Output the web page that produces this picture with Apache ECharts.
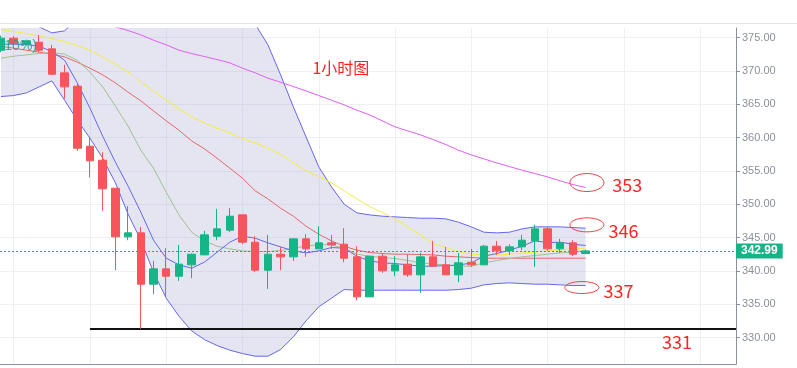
<!DOCTYPE html>
<html><head><meta charset="utf-8">
<script src="https://cdn.jsdelivr.net/npm/echarts@6/dist/echarts.min.js"></script>
<style>html,body{margin:0;padding:0;background:#fff}#c{width:797px;height:368px}</style>
</head><body><div id="c"></div>
<script>
// ---- data (hourly candles) ----
const opens  = [373.1,374.9,374.0,374.3,373.3,369.7,367.7,358.7,356.6,352.4,345.1,345.7,338.0,340.3,339.2,340.9,342.4,345.2,346.1,348.4,344.3,340.1,342.5,342.1,344.8,343.3,344.2,344.0,342.1,336.1,342.2,340.0,341.0,339.4,342.1,340.9,339.4,341.3,340.9,343.7,343.0,343.6,344.5,346.3,343.3,344.2,342.6];
const closes = [374.9,374.1,374.5,373.1,369.5,367.6,358.4,356.5,352.3,345.1,345.7,338.0,340.3,339.2,341.0,342.5,345.4,346.3,348.2,344.3,340.1,342.5,342.1,344.8,343.3,344.2,343.9,341.9,336.1,342.2,340.0,340.9,339.4,342.1,340.7,339.4,341.2,340.9,343.7,343.0,343.6,344.6,346.3,343.3,344.2,342.5,342.99];
const lows   = [372.8,373.9,373.8,372.8,369.4,365.8,358.0,354.0,349.0,340.1,344.6,331.3,336.5,336.2,338.5,338.9,342.4,344.6,345.8,344.0,339.8,337.3,340.1,341.5,342.1,343.3,343.3,341.3,335.6,336.1,339.7,339.2,339.1,336.7,340.7,339.4,338.3,340.6,340.9,342.4,342.4,343.1,340.6,343.0,342.7,342.2,342.6];
const highs  = [375.3,375.2,374.7,375.4,373.9,370.9,368.0,360.1,357.8,352.4,349.7,346.6,341.5,343.4,343.9,342.6,346.0,349.3,349.4,348.4,345.2,345.4,343.6,344.8,345.5,346.7,345.4,346.4,343.7,342.2,342.7,342.2,342.5,342.7,344.5,343.6,342.7,343.3,343.9,344.5,344.0,345.4,346.9,346.7,344.8,344.6,343.2];

const maViolet = [381.8,381.2,380.6,380.0,379.4,378.7,378.1,377.5,377.0,376.6,376.05,375.4,374.6,373.9,373.1,372.6,372.15,371.7,371.2,370.4,369.7,368.9,368.3,367.65,367.0,366.3,365.6,364.9,364.1,363.4,362.5,361.6,361.0,360.4,359.7,358.95,358.1,357.4,356.8,356.2,355.65,355.1,354.6,354.1,353.5,352.95,352.5];
const maYellow = [376.2,375.9,375.6,375.2,374.85,374.4,373.8,373.1,372.1,371.0,369.8,368.3,367.0,365.6,364.35,363.1,362.2,361.4,360.7,359.85,359.2,358.4,357.5,356.2,355.05,354.15,353.2,352.0,350.8,349.65,348.75,347.8,346.6,345.4,344.1,343.5,342.9,342.5,342.4,342.4,342.5,342.7,342.8,343.0,343.1,343.3,343.4];
const maRed    = [373.7,373.4,373.1,372.8,372.5,372.1,371.3,370.4,369.4,368.2,366.8,365.5,364.0,362.5,361.1,359.5,358.3,356.9,355.4,353.9,352.0,350.8,349.4,348.2,346.7,345.5,344.5,343.7,343.1,342.75,342.6,342.5,342.5,342.45,342.4,342.2,342.1,342.0,341.9,341.9,341.9,341.9,341.9,341.9,341.9,341.9,341.9];
const maOlive  = [371.9,372.2,372.4,372.6,372.75,372.5,371.6,369.8,367.6,364.7,361.7,358.1,355.4,351.8,348.4,345.8,344.5,343.7,343.3,343.0,342.9,342.9,343.05,343.4,343.7,343.95,343.9,343.4,342.5,342.2,342.0,341.85,341.55,341.25,341.0,340.9,340.7,340.7,341.2,341.55,341.85,342.1,342.3,342.5,342.7,342.8,343.0];
const maBlue   = [374.0,374.0,373.95,373.7,372.9,371.6,368.2,364.4,360.2,356.3,352.7,348.8,344.6,341.9,340.9,340.4,341.3,342.8,344.3,345.2,344.9,344.2,343.6,343.0,342.7,343.0,343.5,343.4,342.2,341.5,341.2,341.1,340.9,340.7,340.7,340.8,340.85,341.2,342.2,342.6,343.1,343.7,344.5,344.25,344.3,344.0,343.8];
const bollUpper = [379.4,379.1,378.2,376.6,375.7,376.0,377.9,379.2,380.5,381.5,382.3,383.0,383.4,383.5,383.3,382.8,382.0,381.0,379.8,378.5,377.0,373.9,369.4,364.6,360.1,355.6,352.6,350.0,348.7,348.4,348.2,348.1,348.0,347.9,347.9,347.8,347.3,346.6,345.8,345.7,345.8,346.3,346.6,346.6,346.6,346.5,346.4];
const bollLower = [366.15,366.3,366.7,367.6,368.5,365.6,362.6,359.9,356.9,353.2,348.5,344.6,339.8,335.9,333.2,331.0,329.7,328.8,328.1,327.6,327.2,327.2,328.2,330.1,332.5,334.6,335.9,337.2,337.1,337.1,337.1,337.1,337.1,337.1,337.1,337.1,337.2,337.4,337.9,338.1,338.2,338.1,338.0,338.0,337.9,337.8,337.8];

const yTicks = [330,335,340,345,350,355,360,365,370,375];
const xGridTicks = [1,7,13,19,25,31,37,43,49,55];
const lastPrice = 342.99;
const supportLevel = 331.3;
const titleText = '1小时图';
const changeText = '(-1.10%)';
// annotation anchors in data space: [label, ellipse x-index, ellipse value, text x-index, text value]
const rings = [['353',46.1,353.25,48.1,352.9],['346',46.1,346.9,47.8,346.0],['337',45.7,337.5,47.4,336.9]];
const supportLabel = ['331',52.0,329.3];
const titlePos = [24.5,370.4];

// ---- chart ----
const X_MIN = -0.08, X_MAX = 57.83, Y_MIN = 326.03, Y_MAX = 376.43;
const UP = '#14b586', DOWN = '#f8545b', BAND = '#6666f0';
const idx = opens.map((_, i) => i);
const candleData = idx.map(i => [i, opens[i], closes[i], lows[i], highs[i]]);
const pairs = arr => arr.map((v, i) => [i, v]);
const lineSeries = (name, arr, color, z) => ({
  name, type: 'line', data: pairs(arr), symbol: 'none', showSymbol: false,
  lineStyle: { color, width: 1 }, z, silent: true, clip: true
});

const chart = echarts.init(document.getElementById('c'), null, { renderer: 'canvas' });
chart.setOption({
  animation: false,
  backgroundColor: '#ffffff',
  textStyle: { fontFamily: 'Liberation Sans' },
  grid: { left: 0, right: 61, top: 28, bottom: 4, containLabel: false },
  xAxis: {
    type: 'value', min: X_MIN, max: X_MAX,
    axisLine: { show: true, onZero: false, lineStyle: { color: '#8a909b' } },
    axisTick: { show: false, customValues: xGridTicks },
    axisLabel: { show: false, customValues: xGridTicks },
    splitLine: { show: true, lineStyle: { color: '#eff0f4', width: 1 } }
  },
  yAxis: {
    type: 'value', position: 'right', min: Y_MIN, max: Y_MAX,
    axisLine: { show: true, onZero: false, lineStyle: { color: '#8a909b' } },
    axisTick: { show: true, length: 4, customValues: yTicks, lineStyle: { color: '#8a909b' } },
    axisLabel: { customValues: yTicks, formatter: v => v.toFixed(2), color: '#8b909a', fontSize: 11, margin: 6, fontFamily: 'Liberation Sans' },
    splitLine: { show: true, lineStyle: { color: '#eff0f4', width: 1 } }
  },
  series: [
    {
      name: 'bandFill', type: 'custom', clip: true, silent: true, z: 1,
      data: idx.map(i => [i, bollUpper[i], bollLower[i]]),
      encode: { x: 0, y: [1, 2] },
      renderItem: (params, api) => {
        if (params.dataIndex !== 0) return null;
        const up = idx.map(i => api.coord([i, bollUpper[i]]));
        const lo = idx.map(i => api.coord([i, bollLower[i]])).reverse();
        return { type: 'polygon', shape: { points: up.concat(lo) }, style: { fill: 'rgba(160,160,205,0.28)' } };
      }
    },
    lineSeries('upper', bollUpper, BAND, 3),
    lineSeries('lower', bollLower, BAND, 3),
    lineSeries('violet', maViolet, '#e15df4', 3),
    lineSeries('yellow', maYellow, '#f3ee45', 3),
    lineSeries('red', maRed, '#e76769', 3),
    lineSeries('olive', maOlive, '#a0c18d', 3),
    lineSeries('blue', maBlue, BAND, 3),
    {
      name: 'candles', type: 'candlestick', data: candleData, z: 5, barWidth: 8,
      encode: { x: 0, y: [1, 2, 3, 4] },
      itemStyle: { color: UP, color0: DOWN, borderColor: UP, borderColor0: DOWN, borderWidth: 1 },
      markLine: {
        silent: true, symbol: 'none', animation: false,
        data: [
          {
            yAxis: lastPrice,
            lineStyle: { color: '#1aae84', type: [2, 2], width: 1 },
            label: { show: true, position: 'end', distance: 0, formatter: () => lastPrice.toFixed(2),
              backgroundColor: '#14b487', color: '#ffffff', fontWeight: 'bold', fontSize: 12,
              padding: [2, 5, 1, 5], fontFamily: 'Liberation Sans' }
          },
          [
            { coord: [7, supportLevel], lineStyle: { color: '#111111', width: 2, type: 'solid' }, label: { show: false } },
            { coord: [X_MAX, supportLevel] }
          ]
        ]
      }
    }
  ]
});

// ---- annotations (positioned through the chart's scales) ----
const px = (x, v) => chart.convertToPixel({ gridIndex: 0 }, [x, v]);
const g = [
  { type: 'line', shape: { x1: 0, y1: 23.5, x2: 797, y2: 23.5 }, style: { stroke: '#e2e4ea', lineWidth: 1 }, silent: true }
];
const numFont = '"Liberation Sans Narrow", "Noto Sans CJK SC", sans-serif';
rings.forEach(([label, ex, ev, tx, tv]) => {
  const c = px(ex, ev), t = px(tx, tv);
  g.push({ type: 'ellipse', shape: { cx: c[0], cy: c[1], rx: 17, ry: label === '353' ? 9 : (label === '346' ? 7 : 6) },
    style: { fill: 'none', stroke: '#f2403f', lineWidth: 1 }, silent: true, z: 50 });
  g.push({ type: 'text', x: t[0], y: t[1], style: { text: label, fill: '#ff2424', font: '18px ' + numFont, textAlign: 'left', textVerticalAlign: 'middle' }, silent: true, z: 50 });
});
{
  const t = px(supportLabel[1], supportLabel[2]);
  g.push({ type: 'text', x: t[0], y: t[1], style: { text: supportLabel[0], fill: '#ff2424', font: '18px ' + numFont, textAlign: 'left', textVerticalAlign: 'middle' }, silent: true, z: 50 });
  const h = px(titlePos[0], titlePos[1]);
  g.push({ type: 'text', x: h[0], y: h[1], style: { text: titleText, fill: '#ff2020', font: '16px "Noto Sans CJK SC", sans-serif', textAlign: 'left', textVerticalAlign: 'middle' }, silent: true, z: 50 });
  g.push({ type: 'text', x: 37, y: 46, style: { text: changeText, fill: 'rgba(30,165,135,0.85)', font: '14px "Liberation Sans", sans-serif', textAlign: 'right', textVerticalAlign: 'middle' }, silent: true, z: 50 });
}
chart.setOption({ graphic: g });
</script>
</body></html>
